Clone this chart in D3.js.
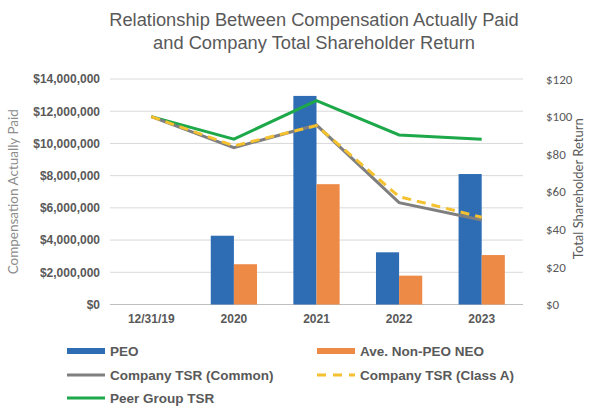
<!DOCTYPE html>
<html><head><meta charset="utf-8">
<script src="https://cdn.jsdelivr.net/npm/d3@7"></script>
<style>body{margin:0;background:#fff}svg{display:block}</style>
</head><body>
<svg id="c" width="590" height="407"></svg>
<script>
const categories = ["12/31/19","2020","2021","2022","2023"];
const peo = [null, 4270000, 12950000, 3240000, 8100000];
const nonPeo = [null, 2500000, 7470000, 1790000, 3070000];
const tsrCommon = [100, 83.5, 95.5, 54.2, 45];
const tsrClassA = [100, 84.4, 95.2, 57.4, 46.4];
const peerTsr = [100, 88, 108.5, 90.2, 88];
const leftTicks = [0,2000000,4000000,6000000,8000000,10000000,12000000,14000000];
const rightTicks = [0,20,40,60,80,100,120];

const svg = d3.select("#c");
const m = {l:110, r:523, t:79, b:304.5};
const x = d3.scaleBand().domain(categories).range([m.l, m.r]).paddingInner(0).paddingOuter(0);
const yL = d3.scaleLinear().domain([0,14000000]).range([m.b, m.t]);
const yR = d3.scaleLinear().domain([0,120]).range([m.b, m.t]);
const txt = "#595959";
const font = "Liberation Sans, Arial, sans-serif";

// title
svg.append("text").attr("x",314).attr("y",26).attr("text-anchor","middle")
  .attr("font-family",font).attr("font-size",18.3).attr("fill",txt)
  .text("Relationship Between Compensation Actually Paid");
svg.append("text").attr("x",314).attr("y",49).attr("text-anchor","middle")
  .attr("font-family",font).attr("font-size",18.3).attr("fill",txt)
  .text("and Company Total Shareholder Return");

// gridlines
svg.append("g").selectAll("line").data(leftTicks).join("line")
  .attr("x1",m.l).attr("x2",m.r).attr("y1",d=>yL(d)).attr("y2",d=>yL(d))
  .attr("stroke",d=>d===0?"#bfbfbf":"#d9d9d9").attr("stroke-width",1);

// left axis
const gl = svg.append("g").attr("transform",`translate(${m.l},0)`)
  .call(d3.axisLeft(yL).tickValues(leftTicks).tickSize(0).tickPadding(10)
    .tickFormat(d=>"$"+d3.format(",")(d)));
gl.select(".domain").remove();
gl.selectAll("text").attr("font-family",font).attr("font-size",12).attr("font-weight","bold").attr("fill",txt);

// right axis
const gr = svg.append("g").attr("transform",`translate(${m.r},0)`)
  .call(d3.axisRight(yR).tickValues(rightTicks).tickSize(0).tickPadding(23)
    .tickFormat(d=>"$"+d));
gr.select(".domain").remove();
gr.selectAll("text").attr("font-family","Carlito, Lato, sans-serif").attr("font-size",13).attr("fill",txt);

// x axis
const gx = svg.append("g").attr("transform",`translate(0,${m.b})`)
  .call(d3.axisBottom(x).tickSize(0).tickPadding(10));
gx.select(".domain").remove();
gx.selectAll("text").attr("font-family",font).attr("font-size",12).attr("font-weight","bold").attr("fill",txt);

// axis titles
svg.append("text").attr("transform",`translate(18,${(m.t+m.b)/2}) rotate(-90)`).attr("text-anchor","middle")
  .attr("font-family","Lato, sans-serif").attr("font-size",13.5).attr("fill","#8c8c8c")
  .text("Compensation Actually Paid");
svg.append("text").attr("transform",`translate(583,${(m.t+m.b)/2 - 3}) rotate(-90)`).attr("text-anchor","middle")
  .attr("font-family","Lato, sans-serif").attr("font-size",13).attr("fill",txt)
  .text("Total Shareholder Return");

// bars
const bw = x.bandwidth()*0.28;
const cBlue = "#2E6DB4", cOrange = "#ED8A45";
const barData = categories.map((c,i)=>({c, peo:peo[i], non:nonPeo[i]}));
svg.append("g").selectAll("rect").data(barData.filter(d=>d.peo!=null)).join("rect")
  .attr("x",d=>x(d.c)+x.bandwidth()/2-bw).attr("width",bw)
  .attr("y",d=>yL(d.peo)).attr("height",d=>yL(0)-yL(d.peo)).attr("fill",cBlue);
svg.append("g").selectAll("rect").data(barData.filter(d=>d.non!=null)).join("rect")
  .attr("x",d=>x(d.c)+x.bandwidth()/2).attr("width",bw)
  .attr("y",d=>yL(d.non)).attr("height",d=>yL(0)-yL(d.non)).attr("fill",cOrange);

// lines
const line = d3.line().x((d,i)=>x(categories[i])+x.bandwidth()/2).y(d=>yR(d));
const cGreen = "#1DA84A", cGray = "#7F7F7F", cYellow = "#F5C12E";
svg.append("path").attr("d",line(peerTsr)).attr("fill","none").attr("stroke",cGreen).attr("stroke-width",3);
svg.append("path").attr("d",line(tsrCommon)).attr("fill","none").attr("stroke",cGray).attr("stroke-width",3);
svg.append("path").attr("d",line(tsrClassA)).attr("fill","none").attr("stroke",cYellow).attr("stroke-width",3)
  .attr("stroke-dasharray","9,6");

// legend
const legend = [
  {name:"PEO", type:"bar", color:cBlue, x:67, y:351},
  {name:"Ave. Non-PEO NEO", type:"bar", color:cOrange, x:317, y:351},
  {name:"Company TSR (Common)", type:"line", color:cGray, x:67, y:375},
  {name:"Company TSR (Class A)", type:"dash", color:cYellow, x:317, y:375},
  {name:"Peer Group TSR", type:"line", color:cGreen, x:67, y:398}
];
const lg = svg.append("g").selectAll("g").data(legend).join("g")
  .attr("transform",d=>`translate(${d.x},${d.y})`);
lg.filter(d=>d.type==="bar").append("rect").attr("x",0).attr("y",-3).attr("width",38).attr("height",6).attr("fill",d=>d.color);
lg.filter(d=>d.type!=="bar").append("line").attr("x1",0).attr("x2",38).attr("y1",0).attr("y2",0)
  .attr("stroke",d=>d.color).attr("stroke-width",3)
  .attr("stroke-dasharray",d=>d.type==="dash"?"9,7":null);
lg.append("text").attr("x",43).attr("y",5).attr("font-family",font).attr("font-size",13.5)
  .attr("font-weight","bold").attr("fill",txt).text(d=>d.name);
</script>
</body></html>
